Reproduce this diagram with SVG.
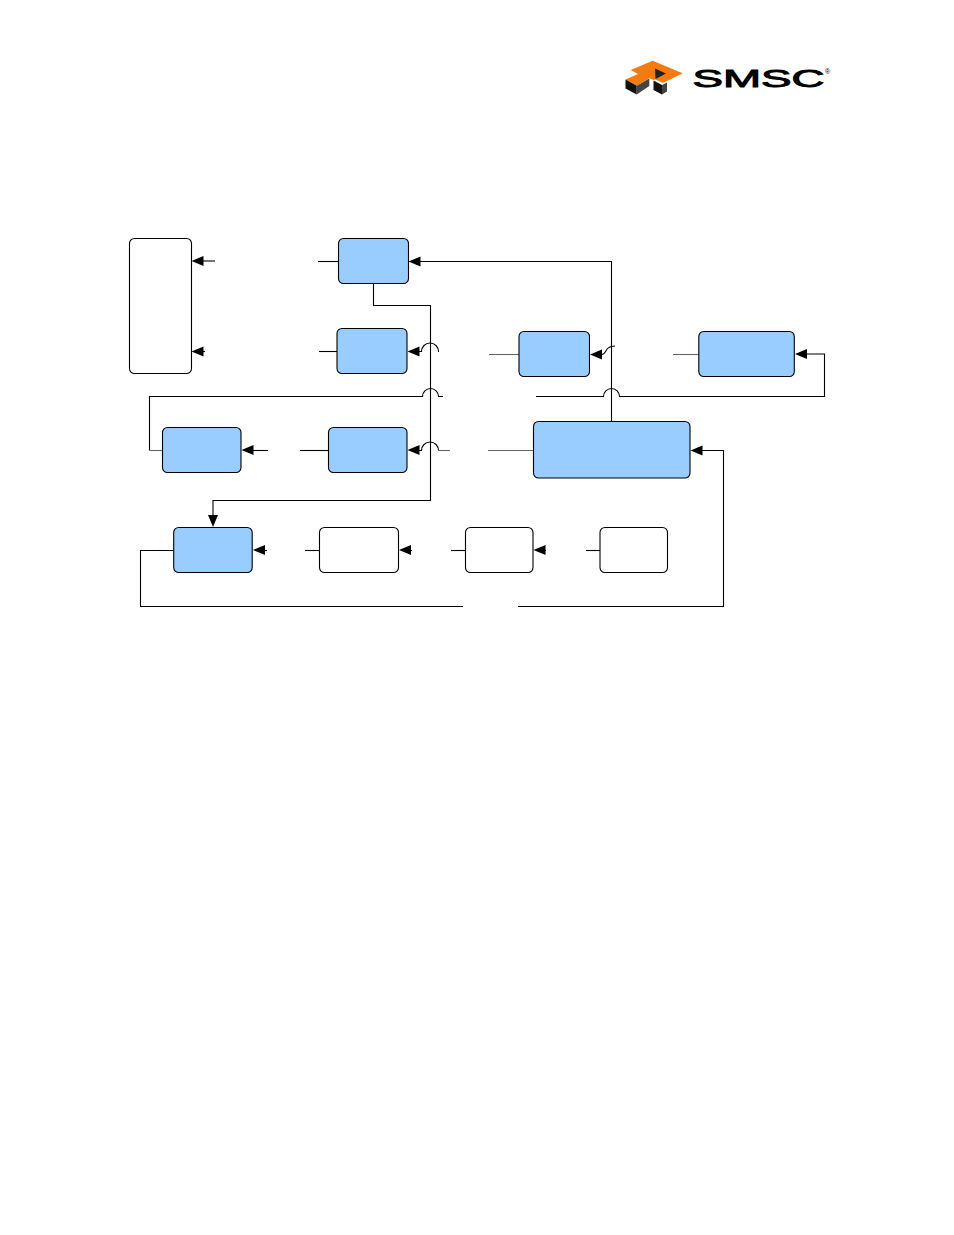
<svg xmlns="http://www.w3.org/2000/svg" width="954" height="1235" viewBox="0 0 954 1235">
<style>
.box{stroke:#000;stroke-width:1.1}
.blue{fill:#99ccff}
.white{fill:#fff}
.c{fill:none;stroke:#000;stroke-width:1.1}
.g{fill:none;stroke:#666;stroke-width:1.1}
.h{fill:#000;stroke:none}
</style>
<defs>
<polygon id="al" class="h" points="0,0 12,-5 12,5"/>
</defs>
<rect width="954" height="1235" fill="#fff"/>
<g id="logo">
<polygon fill="#f47b10" points="630.7,70 652.7,60.7 682.7,73.3 663,83 655.5,79.5 653.5,80 649.3,78.3 636.7,85.7 625.5,79.5 638,74 630.7,70"/>
<polygon fill="#222" points="655,68.5 666,73.5 655.5,79"/>
<polygon fill="#111" points="625.5,79.5 636.7,85.7 636.7,94.5 625.5,88.5"/>
<polygon fill="#444" points="636.7,85.7 649.3,78.5 649.3,86 636.7,94.5"/>
<polygon fill="#111" points="653.5,80.5 662,85 662,94.5 653.5,90"/>
<polygon fill="#444" points="662,85 667,82.5 667,91.5 662,94.5"/>
<text x="692.5" y="87" font-family="'Liberation Sans',Arial,sans-serif" font-size="23.5" textLength="132" lengthAdjust="spacingAndGlyphs" fill="#000" stroke="#000" stroke-width="0.9">SMSC</text>
<text x="825" y="74" font-family="'Liberation Sans',Arial,sans-serif" font-size="7" fill="#000">®</text>
</g>
<g id="connectors">
<path class="c" d="M215 261H198"/>
<path class="c" d="M318 261.5H338"/>
<path class="c" d="M205 351.5H198"/>
<path class="c" d="M319 351.5H337"/>
<path class="c" d="M611.5 422V261.5H415"/>
<path class="c" d="M373.5 284V305.5H430.5V500.5H213V515"/>
<path class="c" d="M419 351.5H421.5A8.5 8.5 0 0 1 438.5 351.5H439"/>
<path class="c" d="M149.5 450.5V396.5H422.5A8 8 0 0 1 438.5 396.5H443"/>
<path class="c" d="M536 396.5H603.5A8 8 0 0 1 619.5 396.5H824.5V354H806"/>
<path class="g" d="M149.5 450.5H162"/>
<path class="g" d="M489 354.5H519"/>
<path class="c" d="M602 354.5C607 354.5 604 346 615 346"/>
<path class="g" d="M673 354.5H699"/>
<path class="c" d="M268 450.5H252"/>
<path class="c" d="M300 450.5H328"/>
<path class="c" d="M419 450.5H421.5A8.5 8.5 0 0 1 438.5 450.5"/>
<path class="g" d="M438.5 450.5H450"/>
<path class="g" d="M488 450.5H533"/>
<path class="c" d="M702 450.5H723.5V606.5H518"/>
<path class="c" d="M173.5 550.5H140.5V606.5H463"/>
<path class="c" d="M267 550.5H264"/>
<path class="c" d="M305 550.5H319"/>
<path class="c" d="M412 550.5H410"/>
<path class="c" d="M451 550.5H465"/>
<path class="c" d="M546 550.5H545"/>
<path class="c" d="M586 550.5H600"/>
<use href="#al" x="191.5" y="261"/>
<use href="#al" x="191.5" y="351.5"/>
<use href="#al" x="408.5" y="261.5"/>
<use href="#al" x="407.5" y="351.5"/>
<use href="#al" x="590" y="354.5"/>
<use href="#al" x="795" y="354"/>
<use href="#al" x="241.5" y="450"/>
<use href="#al" x="407.5" y="450"/>
<use href="#al" x="690.5" y="450.5"/>
<use href="#al" x="253" y="550"/>
<use href="#al" x="399" y="550"/>
<use href="#al" x="533.5" y="550"/>
<polygon class="h" points="213,527 208,515 218,515"/>
</g>
<g id="n1"><rect class="box white" x="129.5" y="238.5" width="62" height="135" rx="5"/></g>
<g id="n2"><rect class="box blue" x="338.5" y="238.5" width="70" height="45" rx="5"/></g>
<g id="n3"><rect class="box blue" x="337" y="328.5" width="70" height="45" rx="5"/></g>
<g id="n4"><rect class="box blue" x="519" y="331.5" width="70.5" height="45" rx="5"/></g>
<g id="n5"><rect class="box blue" x="698.8" y="331.5" width="95.5" height="45" rx="5"/></g>
<g id="n6"><rect class="box blue" x="162.5" y="427.5" width="78.5" height="45" rx="5"/></g>
<g id="n7"><rect class="box blue" x="328.5" y="427.5" width="78.5" height="45" rx="5"/></g>
<g id="n8"><rect class="box blue" x="533.5" y="421.5" width="156.5" height="56.5" rx="5"/></g>
<g id="n9"><rect class="box blue" x="173.7" y="527.5" width="78.5" height="45" rx="5"/></g>
<g id="n10"><rect class="box white" x="319.5" y="527.5" width="79" height="45" rx="5"/></g>
<g id="n11"><rect class="box white" x="465.5" y="527.5" width="67.5" height="45" rx="5"/></g>
<g id="n12"><rect class="box white" x="600" y="527.5" width="67.5" height="45" rx="5"/></g>
</svg>
